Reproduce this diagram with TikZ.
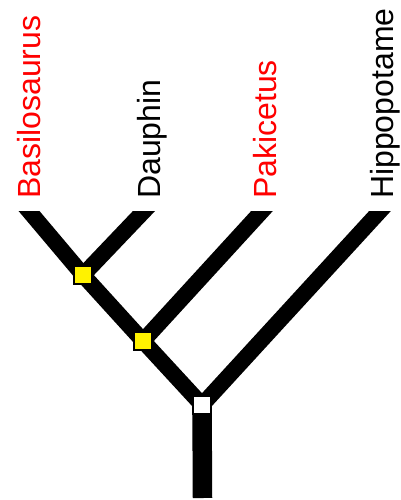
\documentclass[tikz,border=0pt]{standalone}
\usepackage{fontspec}
\setmainfont{Liberation Sans}
\usetikzlibrary{calc}
\begin{document}
\begin{tikzpicture}[x=1pt,y=-1pt,
  branch/.style={line width=16pt, line join=round},
  trunk/.style={line width=19.5pt},
  knot/.style={draw=black, line width=2.2pt, minimum size=18pt, inner sep=0pt, rectangle},
  leaf/.style={rotate=90, anchor=base west, inner sep=0pt, font=\fontsize{32}{32}\selectfont}]
\useasboundingbox (0,0) rectangle (400,500);

% branching points and branch tips
\coordinate (r) at (202,405);
\coordinate (b) at (143,341);
\coordinate (a) at (83,275);
\coordinate (tBas) at (29,211);
\coordinate (tDau) at (144,211);
\coordinate (tPak) at (262,211);
\coordinate (tHip) at (380,211);
\coordinate (foot) at (202.5,498);

% branches, cut flat at the top
\begin{scope}
  \clip (0,211) rectangle (400,500);
  \draw[branch] ($(a)!1.4!(tBas)$) -- (a) -- (b) -- (r);
  \draw[branch] (a) -- ($(a)!1.4!(tDau)$);
  \draw[branch] (b) -- ($(b)!1.2!(tPak)$);
  \draw[branch] (r) -- ($(r)!1.15!(tHip)$);
\end{scope}
\draw[trunk] (r) -- (foot);

% nodes of the tree
\node[knot, fill=yellow] (na) at (a) {};
\node[knot, fill=yellow] (nb) at (b) {};
\node[knot, fill=white] (nr) at (r) {};

% taxon names
\node[leaf, text=red] (Bas) at (40,199) {Basilosaurus};
\node[leaf] (Dau) at (160,199) {Dauphin};
\node[leaf, text=red] (Pak) at (276,199) {Pakicetus};
\node[leaf] (Hip) at (393,199) {Hippopotame};
\end{tikzpicture}
\end{document}
